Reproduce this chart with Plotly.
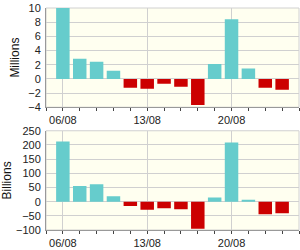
import plotly.graph_objects as go
from plotly.subplots import make_subplots

dates = ["06/08", "07/08", "08/08", "09/08", "10/08", "13/08", "14/08",
         "15/08", "16/08", "17/08", "20/08", "21/08", "22/08", "23/08"]
millions = [10.0, 2.85, 2.4, 1.15, -1.25, -1.4, -0.7, -1.1, -3.7, 2.1, 8.4, 1.45, -1.25, -1.55]
billions = [212, 55, 61, 19, -15, -29, -23, -27, -96, 15, 209, 5, -44, -41]
label_idx = [0, 5, 10]

POS = "#66CCCC"
NEG = "#CC0000"

x = list(range(len(dates)))
fig = make_subplots(rows=2, cols=1, vertical_spacing=0.106)

for row, vals in ((1, millions), (2, billions)):
    fig.add_trace(go.Bar(x=x, y=vals, width=0.8,
                         marker=dict(color=[POS if v >= 0 else NEG for v in vals], line=dict(width=0)),
                         showlegend=False), row=row, col=1)

font = dict(family="Liberation Sans, Arial", size=11, color="#222")
for row in (1, 2):
    fig.update_xaxes(row=row, col=1, range=[-1, len(dates)],
                     tickmode="array", tickvals=label_idx,
                     ticktext=[dates[i] for i in label_idx],
                     showgrid=True, gridcolor="#D0D0D0", gridwidth=1,
                     ticks="outside", ticklen=3, tickcolor="#444",
                     minor=dict(tickmode="linear", tick0=0, dtick=1, ticks="outside",
                                ticklen=3, tickcolor="#444", showgrid=False),
                     showline=True, linecolor="#999", linewidth=1,
                     zeroline=False, tickfont=font, fixedrange=True)
    fig.add_shape(type="rect", xref=f"x{'' if row == 1 else 2} domain",
                  yref=f"y{'' if row == 1 else 2} domain",
                  x0=0, x1=1, y0=0, y1=1, line=dict(color="#D0D0D0", width=1),
                  layer="below")

fig.update_yaxes(row=1, col=1, range=[-4, 10], dtick=2, title_text="Millions")
fig.update_yaxes(row=2, col=1, range=[-100, 250], dtick=50, title_text="Billions")
fig.update_yaxes(showgrid=True, gridcolor="#D0D0D0", gridwidth=1,
                 zeroline=False, showline=True, linecolor="#999", linewidth=1,
                 ticks="", tickfont=font, ticklabelstandoff=2,
                 title_font=dict(family="Liberation Sans, Arial", size=12, color="#111"),
                 title_standoff=6, fixedrange=True)

fig.update_layout(width=300, height=250,
                  margin=dict(l=46, r=1, t=8, b=18),
                  plot_bgcolor="#FFFFF0", paper_bgcolor="white",
                  bargap=0.2)
fig.write_html("out.html")
